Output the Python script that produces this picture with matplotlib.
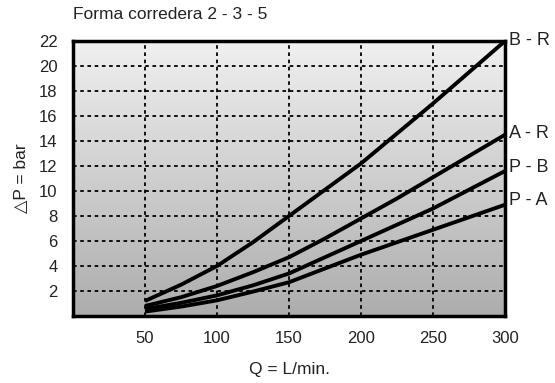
import numpy as np
import matplotlib.pyplot as plt
from matplotlib.colors import LinearSegmentedColormap

plt.rcParams['font.family'] = ['Liberation Sans', 'DejaVu Sans']

q = [50, 75, 100, 125, 150, 175, 200, 225, 250, 275, 300]
dp_br = [1.2, 2.5, 4.0, 5.9, 8.0, 10.1, 12.2, 14.6, 17.0, 19.5, 22.0]
dp_ar = [0.8, 1.5, 2.4, 3.5, 4.7, 6.2, 7.8, 9.4, 11.1, 12.8, 14.5]
dp_pb = [0.55, 1.05, 1.65, 2.45, 3.4, 4.7, 6.0, 7.3, 8.6, 10.1, 11.6]
dp_pa = [0.35, 0.75, 1.25, 1.95, 2.7, 3.8, 4.9, 5.9, 6.9, 7.9, 8.9]
names = ["B - R", "A - R", "P - B", "P - A"]
label_y = [22, 14.6, 11.9, 9.2]
xticks = [50, 100, 150, 200, 250, 300]
yticks = [2, 4, 6, 8, 10, 12, 14, 16, 18, 20, 22]

txt = '#222222'

fig = plt.figure(figsize=(5.55, 3.83), dpi=100)
ax = fig.add_axes([0.1315, 0.175, 0.7785, 0.718])

# gray gradient background, light at top
cmap = LinearSegmentedColormap.from_list("bg", ["#f0f0f0", "#adadad"])
grad = np.linspace(0, 1, 256).reshape(-1, 1)
ax.imshow(grad, extent=(0, 300, 0, 22), aspect='auto', cmap=cmap,
          origin='upper', zorder=0)

for x in xticks[:-1]:
    ax.axvline(x, color='black', lw=1.3, ls=(0, (2, 2)), zorder=1)
for y in yticks[:-1]:
    ax.axhline(y, color='black', lw=1.3, ls=(0, (2, 2)), zorder=1)

for dp in [dp_br, dp_ar, dp_pb, dp_pa]:
    ax.plot(q, dp, color='black', lw=2.8, solid_capstyle='butt',
            solid_joinstyle='round', zorder=3)

for name, y in zip(names, label_y):
    ax.text(303, y, name, fontsize=13, color=txt, va='center', ha='left', clip_on=False)

ax.set_xlim(0, 300)
ax.set_ylim(0, 22)
ax.set_xticks(xticks)
ax.set_yticks(yticks)
ax.tick_params(length=0, labelsize=12, pad=11, labelcolor=txt)
for s in ax.spines.values():
    s.set_linewidth(2.5)

ax.set_xlabel("Q = L/min.", fontsize=12.5, labelpad=11, color=txt)
ax.set_ylabel("△P = bar", fontsize=12.5, labelpad=7, color=txt)
fig.text(0.1315, 0.961, "Forma corredera 2 - 3 - 5", fontsize=12.5, color=txt,
         va='center', ha='left')

plt.savefig("out.png", dpi=100)
